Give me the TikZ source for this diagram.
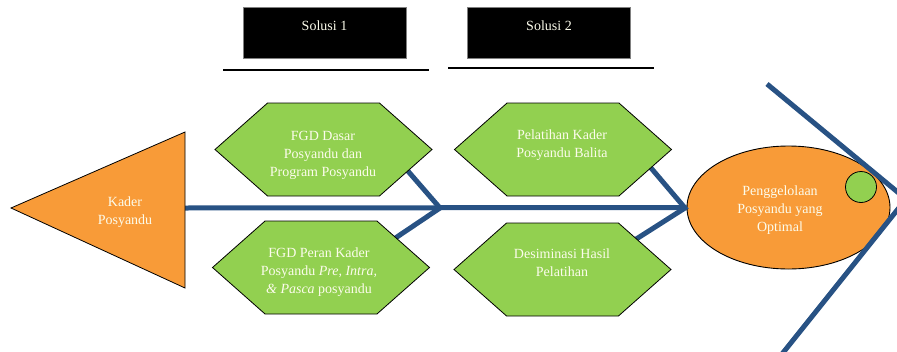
\documentclass[tikz,border=0pt]{standalone}
\usepackage{fontspec}
\setmainfont{Liberation Serif}
\usetikzlibrary{positioning,shapes.geometric,shapes.symbols}

\definecolor{bone}{RGB}{40,82,132}
\definecolor{fishorange}{RGB}{248,155,56}
\definecolor{fishgreen}{RGB}{146,208,80}
\definecolor{paletext}{RGB}{252,252,236}

\begin{document}
\begin{tikzpicture}[x=1pt,y=-1pt,
	font=\fontsize{14}{18}\selectfont,
	bonestyle/.style={draw=bone,line width=5pt},
	hexa/.style={shape=signal,signal to=east and west,signal pointer angle=83,
		draw=black,line width=0.8pt,fill=fishgreen,
		minimum width=217pt,minimum height=93pt,inner sep=0pt},
	lbl/.style={text=paletext,align=center,inner sep=0pt},
	solbox/.style={draw=gray,line width=0.6pt,fill=black,
		minimum width=163pt,minimum height=51pt,inner sep=0pt},
	underline/.style={draw=black,line width=1.8pt}]

	\useasboundingbox (0,0) rectangle (897,351);

	% spine and the two small chevrons
	\coordinate (tailbase) at (185,208);
	\coordinate (jointa) at (440,208);
	\coordinate (jointb) at (685,208);
	\coordinate (ribaup) at (394,155);
	\coordinate (ribadown) at (385,245);
	\coordinate (ribbup) at (640,155);
	\coordinate (ribbdown) at (630,243);
	\node[ellipse,draw=black,line width=0.9pt,fill=fishorange,
		minimum width=203pt,minimum height=123pt] (goal) at (788.5,207.5) {};
	\draw[bonestyle] (tailbase) -- (goal.west);
	\draw[bonestyle] (ribaup) -- (jointa) -- (ribadown);
	\draw[bonestyle] (ribbup) -- (jointb) -- (ribbdown);

	% head
	\draw[draw=black,line width=0.8pt,fill=fishorange] (11,208) -- (185,132) -- (185,288) -- cycle;
	\node[lbl] (kader) at (125,212) {Kader\\Posyandu};

	% solusi headers
	\node[solbox] (sol1) at (324.5,32.5) {};
	\node[solbox] (sol2) at (549,32.5) {};
	\node[lbl] (sol1txt) at (324.5,26) {Solusi 1};
	\node[lbl] (sol2txt) at (549,26) {Solusi 2};
	\coordinate (linea1) at (223,70);
	\coordinate (linea2) at (429,70);
	\coordinate (lineb1) at (448,68);
	\coordinate (lineb2) at (654,68);
	\draw[underline] (linea1) -- (linea2);
	\draw[underline] (lineb1) -- (lineb2);

	% hexagons
	\node[hexa] (fgddasar) at (323.5,149.5) {};
	\node[hexa] (fgdperan) at (321,267.5) {};
	\node[hexa] (pelatihan) at (563,149.5) {};
	\node[hexa] (desiminasi) at (562.5,269.5) {};
	\node[lbl] (fgddasartxt) at (323,155) {FGD Dasar\\Posyandu dan\\Program Posyandu};
	\node[lbl] (fgdperantxt) at (319,272) {FGD Peran Kader\\Posyandu \textit{Pre, Intra,}\\\textit{\& Pasca} posyandu};
	\node[lbl] (pelatihantxt) at (562,145) {Pelatihan Kader\\Posyandu Balita};
	\node[lbl] (desiminasitxt) at (562,263) {Desiminasi Hasil\\Pelatihan};

	% goal text and the big tail lines
	\node[lbl] (goaltxt) at (780,210) {Penggelolaan\\Posyandu yang\\Optimal};
	\begin{scope}
		\clip (0,0) rectangle (897,351);
		\coordinate (finup) at (767,84);
		\coordinate (fintip) at (906,199);
		\coordinate (findown) at (774,364);
		\draw[bonestyle] (finup) -- (fintip) -- (findown);
	\end{scope}
	\node[circle,draw=black,line width=0.8pt,fill=fishgreen,minimum size=31pt] (eye) at (861,187) {};

\end{tikzpicture}
\end{document}
